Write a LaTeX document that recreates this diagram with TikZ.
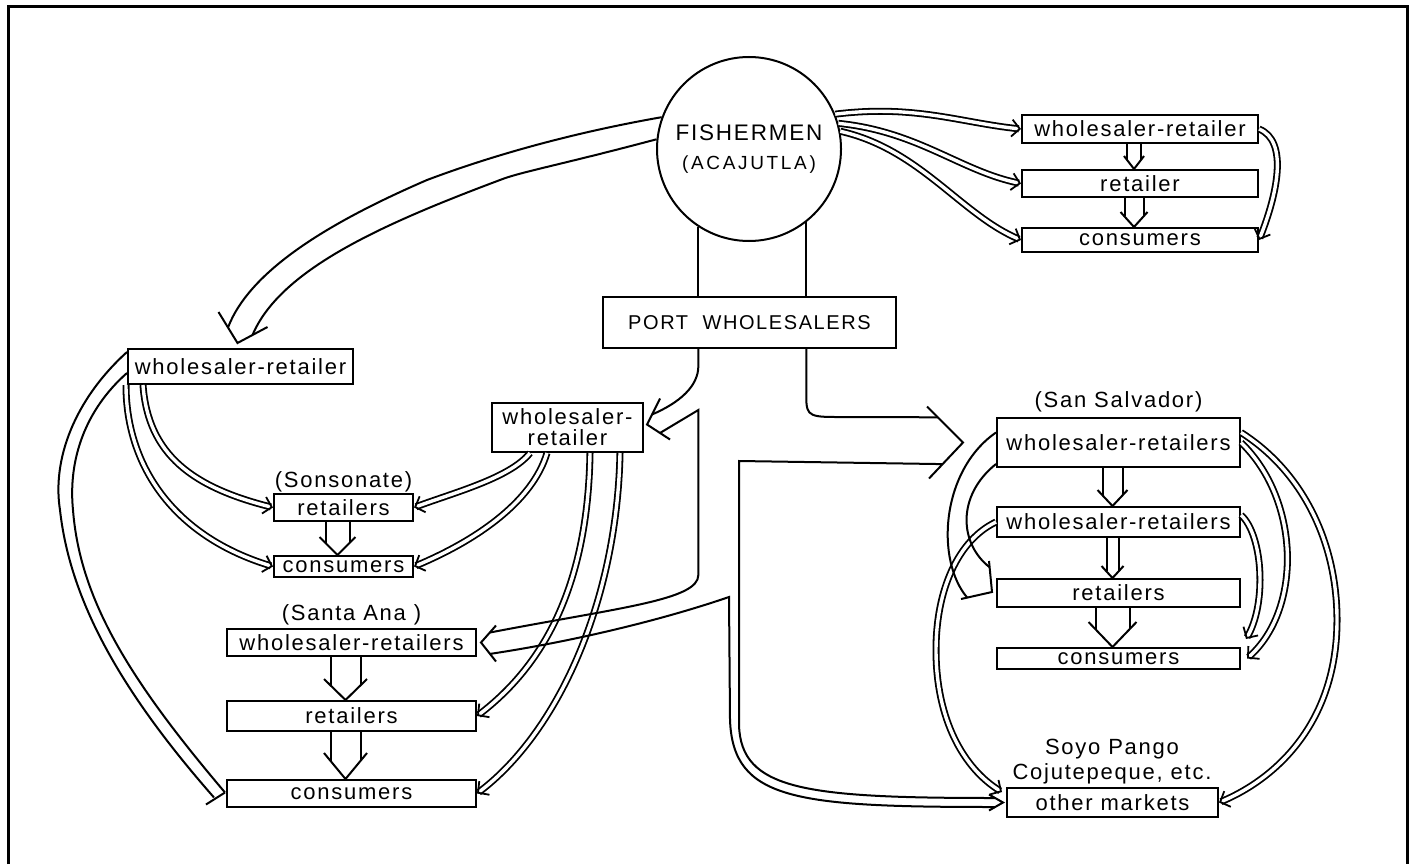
\documentclass[tikz,border=0pt]{standalone}
\usepackage{fontspec}
\setmainfont{Liberation Sans}[LetterSpace=8]
\usetikzlibrary{positioning,calc}
\usetikzlibrary{arrows.meta}
\tikzset{
  box/.style={draw,line width=2pt,inner sep=0pt,font=\fontsize{22}{25}\selectfont},
  lbl/.style={inner sep=0pt,align=center,font=\fontsize{22}{25}\selectfont},
  edge/.style={draw,line width=2pt},
  dbl/.style={draw,line width=1.8pt,double,double distance=3.4pt,
    -{Straight Barb[length=8pt,width=17pt,line width=1.8pt 0 0]}},
  frame/.style={draw,line width=3pt},
}
% hollow arrow from box #1 down to box #2: half shaft, half head, head length
\newcommand{\hollowdown}[5]{%
  \draw[edge] ($(#1.south)+(-#3-6,0)$) -- ($(#2.north)+(-#3-6,{-#5*#3/#4})$);
  \draw[edge] ($(#1.south)+(#3-6,0)$) -- ($(#2.north)+(#3-6,{-#5*#3/#4})$);
  \draw[edge] ($(#2.north)+(-#4-6,-#5)$) -- ($(#2.north)+(-6,0)$) -- ($(#2.north)+(#4-6,-#5)$);
}

\begin{document}
\begin{tikzpicture}[x=1pt,y=-1pt]
\useasboundingbox (0,0) rectangle (1415,864);
\draw[frame] (8,864) -- (8,7) -- (1407,7) -- (1407,864);

% nodes
\node[circle,draw,line width=2pt,minimum size=184pt,inner sep=0pt,align=center,
  font=\fontsize{22.5}{29}\selectfont] (fish) at (749,149)
  {FISHERMEN\\{\fontsize{19}{29}\selectfont\addfontfeature{LetterSpace=14}(ACAJUTLA)}};
\node[box,minimum width=293pt,minimum height=51pt,font=\fontsize{20}{22}\selectfont] (port) at (749.5,322.5) {PORT\ \ WHOLESALERS};

\node[box,minimum width=236pt,minimum height=28pt] (trwr) at (1140,129) {wholesaler-retailer};
\node[box,minimum width=236pt,minimum height=27pt] (trret) at (1140,183.5) {retailer};
\node[box,minimum width=236pt,minimum height=24pt] (trcon) at (1140,240) {consumers};

\node[box,minimum width=225pt,minimum height=35pt] (lwr) at (240.5,366.5) {wholesaler-retailer};
\node[lbl] (sonlbl) at (343.5,482) {(Sonsonate)};
\node[box,minimum width=139pt,minimum height=27pt] (sonret) at (343.5,507.5) {retailers};
\node[box,minimum width=139pt,minimum height=21pt] (soncon) at (343.5,566.5) {consumers};

\node[box,minimum width=151pt,minimum height=49pt,align=center,font=\fontsize{22}{21}\selectfont] (mwr) at (567.5,427.5) {wholesaler-\\retailer};

\node[lbl] (salbl) at (351.5,615) {(Santa Ana )};
\node[box,minimum width=249pt,minimum height=27pt] (sawr) at (351.5,642.5) {wholesaler-retailers};
\node[box,minimum width=249pt,minimum height=30pt] (saret) at (351.5,716) {retailers};
\node[box,minimum width=249pt,minimum height=27pt] (sacon) at (351.5,793.5) {consumers};

\node[lbl] (sslbl) at (1118.5,402) {(San Salvador)};
\node[box,minimum width=243pt,minimum height=49pt] (sswr1) at (1118.5,442.5) {wholesaler-retailers};
\node[box,minimum width=243pt,minimum height=30pt] (sswr2) at (1118.5,522) {wholesaler-retailers};
\node[box,minimum width=243pt,minimum height=28pt] (ssret) at (1118.5,593) {retailers};
\node[box,minimum width=243pt,minimum height=21pt] (sscon) at (1118.5,658.5) {consumers};

\node[lbl] (omlbl) at (1112,762) {Soyo Pango\\Cojutepeque, etc.};
\node[box,minimum width=211pt,minimum height=29pt] (om) at (1112.5,802.5) {other markets};

% double arrows
\draw[dbl] (fish.22) .. controls +(80,-10) and +(-60,-6) .. (trwr.west);
\draw[dbl] (fish.16) .. controls +(80,8) and +(-60,-12) .. (trret.west);
\draw[dbl] (fish.11) .. controls +(80,18) and +(-60,-25) .. (trcon.west);
\draw[dbl] (trwr.east) .. controls +(30,12) and +(18,-45) .. (trcon.east);

\draw[dbl] ($(lwr.south west)+(16,0)$) .. controls +(5,70) and +(-80,-20) .. (sonret.west);
\draw[dbl] ($(lwr.south west)+(-1,0)$) .. controls +(0,80) and +(-100,-30) .. (soncon.west);

\draw[dbl] ($(mwr.south west)+(39,0)$) .. controls +(-20,25) and +(40,-15) .. (sonret.east);
\draw[dbl] ($(mwr.south west)+(56,0)$) .. controls +(-15,50) and +(60,-25) .. (soncon.east);
\draw[dbl] ($(mwr.south west)+(99,0)$) .. controls +(-2,128) and +(70,-53) .. (saret.east);
\draw[dbl] ($(mwr.south west)+(129,0)$) .. controls +(-3,150) and +(80,-60) .. (sacon.east);

\draw[dbl] (sswr2.west) .. controls +(-38,18) and +(0,-60) .. (936,650)
  .. controls +(0,70) and +(-38,-23) .. ($(om.north west)+(-4,5)$);
\draw[dbl] ($(sswr1.east)+(0,-10)$) .. controls +(60,38) and +(0,-80) .. (1337,620)
  .. controls +(0,100) and +(60,-25) .. (om.east);
\draw[dbl] (sswr1.east) .. controls +(60,58) and +(55,-48) .. ($(sscon.east)+(6,0)$);
\draw[dbl] ($(sswr2.east)+(0,-7)$) .. controls +(22,20) and +(21,-35) .. ($(sscon.north east)+(5,-8)$);

% fishermen to the left wholesaler-retailer
\coordinate (flt) at ($(lwr.north)+(-3,-5)$);
\draw[edge] (fish.160) .. controls (560,135) and (480,160) .. (427,180)
  .. controls (330,222) and (250,270) .. ($(flt)+(-9.5,-15.5)$);
\draw[edge] (fish.174) .. controls (560,165) and (520,172) .. (500,180)
  .. controls (380,225) and (280,270) .. ($(flt)+(15,-8)$);
\draw[edge] ($(flt)+(-19,-31)$) -- (flt) -- ($(flt)+(30,-16)$);

% trunk
\draw[edge] (fish.237) -- (fish.237 |- port.north);
\draw[edge] (fish.308) -- (fish.308 |- port.north);
\coordinate (pl) at (fish.237 |- port.south);
\coordinate (pr) at (fish.308 |- port.south);

% port wholesalers outwards
\coordinate (mt) at ($(mwr.east)+(3,-3)$);
\coordinate (sat) at ($(sawr.east)+(4,0)$);
\coordinate (sst) at ($(sswr1.west)+(-33,0)$);
\coordinate (omt) at ($(om.west)+(-3,0)$);
\coordinate (cusp) at (729,597);
\draw[edge] (pl) -- ++(0,17) .. controls +(0,20) and +(28,-12) .. ($(mt)+(5,-10)$);
\draw[edge] ($(mt)+(13,8.5)$) -- (pl |- 0,410) -- (pl |- 0,575)
  .. controls +(0,25) and +(130,-25) .. ($(sat)+(9,-10)$);
\draw[edge] ($(mt)+(13,-26)$) -- (mt) -- ($(mt)+(23,15)$);
\draw[edge] ($(sat)+(9,11.4)$) .. controls +(80,-12) and +(-70,24) .. (cusp) -- (730,720)
  .. controls +(3,80) and +(-200,0) .. ($(omt)+(-8,4.5)$);
\draw[edge] ($(sat)+(15,-17)$) -- (sat) -- ($(sat)+(15,19)$);
\draw[edge] (pr) -- ++(0,40) .. controls +(0,25) and +(-30,0) .. (835,417) -- ($(sst)+(-25.2,-25.2)$);
\draw[edge] ($(sst)+(-20.4,21.6)$) -- (739,461) -- (739,725)
  .. controls +(2,65) and +(-190,0) .. ($(omt)+(-8,-4.5)$);
\draw[edge] ($(sst)+(-36,-36)$) -- (sst) -- ($(sst)+(-34,36)$);
\draw[edge] ($(omt)+(-14,-8)$) -- (omt) -- ($(omt)+(-14,8)$);

% left wholesaler-retailer to Santa Ana consumers
\coordinate (lct) at ($(sacon.west)+(-1,-1)$);
\draw[edge] ($(lwr.west)+(0,-14.5)$) .. controls +(-53,48) and +(-8,-50) .. (60,510)
  .. controls +(10,90) and +(-94,-107) .. ($(lct)+(-11,5)$);
\draw[edge] ($(lwr.west)+(0,6.5)$) .. controls +(-42,37) and +(-5,-50) .. (73,510)
  .. controls +(7,90) and +(-95,-112) .. (lct);
\draw[edge] ($(lct)+(-19,12)$) -- (lct);

% San Salvador wholesaler-retailers to retailers
\coordinate (srt) at ($(ssret.west)+(-4,-1)$);
\draw[edge] ($(sswr1.west)+(0,-10)$) .. controls +(-55,38) and +(-32,-37.6) .. ($(srt)+(-24.8,5.6)$);
\draw[edge] ($(sswr1.south west)+(0,-4)$) .. controls +(-40,32) and +(-30,-23) .. ($(srt)+(-2.4,-24.8)$);
\draw[edge] ($(srt)+(-3,-31)$) -- (srt) -- ($(srt)+(-31,7)$);

% hollow arrows
\hollowdown{trwr}{trret}{7}{10}{13}
\hollowdown{trret}{trcon}{9.5}{13.5}{15}
\hollowdown{sonret}{soncon}{12}{18}{18}
\hollowdown{sawr}{saret}{15}{21.5}{21}
\hollowdown{saret}{sacon}{15}{21.5}{26}
\hollowdown{sswr1}{sswr2}{10}{15}{16}
\hollowdown{sswr2}{ssret}{6}{11}{12}
\hollowdown{ssret}{sscon}{17}{24}{25}
\end{tikzpicture}
\end{document}
